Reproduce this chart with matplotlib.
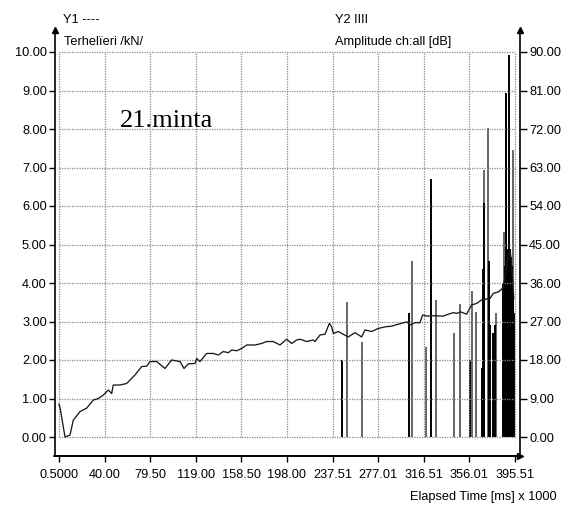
import matplotlib
matplotlib.use("Agg")
import matplotlib.pyplot as plt

# ---------------- data ----------------
x_ticks = [0.5, 40.0, 79.5, 119.0, 158.5, 198.0, 237.51, 277.01, 316.51, 356.01, 395.51]
x_tick_labels = ["0.5000", "40.00", "79.50", "119.00", "158.50", "198.00",
                 "237.51", "277.01", "316.51", "356.01", "395.51"]
y1_ticks = [0, 1, 2, 3, 4, 5, 6, 7, 8, 9, 10]
y1_tick_labels = ["0.00", "1.00", "2.00", "3.00", "4.00", "5.00",
                  "6.00", "7.00", "8.00", "9.00", "10.00"]
y2_ticks = [0, 9, 18, 27, 36, 45, 54, 63, 72, 81, 90]
y2_tick_labels = ["0.00", "9.00", "18.00", "27.00", "36.00", "45.00",
                  "54.00", "63.00", "72.00", "81.00", "90.00"]

# load curve (kN) vs elapsed time (ms x 1000)
load_t = [0.5, 1.5, 5.7, 10.0, 12.9, 18.7, 24.5, 30.2, 34.5, 38.9,
          43.2, 46.1, 47.5, 53.3, 59.1, 66.3, 72.1, 76.5, 79.3, 85.1,
          92.3, 98.1, 105.3, 108.8, 112.5, 118.3, 119.8, 122.6, 128.4, 134.2,
          138.5, 142.8, 147.2, 150.1, 154.4, 158.8, 163.1, 170.3, 176.1, 180.4,
          186.1, 191.9, 197.7, 202.1, 206.4, 209.3, 215.1, 220.8, 222.3, 226.6,
          230.9, 234.7, 236.7, 238.1, 242.5, 245.4, 251.1, 256.9, 262.7, 265.6,
          271.4, 277.1, 282.9, 288.7, 294.4, 301.7, 304.6, 308.9, 313.2, 315.5,
          319.0, 324.8, 333.4, 337.7, 342.1, 345.0, 348.4, 353.6, 357.9, 362.3,
          366.6, 373.9, 376.7, 381.1, 384.0, 385.4, 387.5, 389.5, 391.5, 393.0,
          394.5]
load_kn = [0.85, 0.75, 0.00, 0.05, 0.44, 0.66, 0.75, 0.96, 1.00, 1.09,
           1.22, 1.13, 1.35, 1.35, 1.39, 1.61, 1.83, 1.84, 1.96, 1.96,
           1.78, 2.00, 1.96, 1.78, 1.90, 1.91, 2.04, 1.96, 2.17, 2.17,
           2.13, 2.22, 2.19, 2.26, 2.24, 2.30, 2.39, 2.39, 2.43, 2.48,
           2.48, 2.39, 2.54, 2.43, 2.52, 2.54, 2.48, 2.52, 2.48, 2.65,
           2.67, 2.95, 2.86, 2.69, 2.74, 2.69, 2.60, 2.71, 2.60, 2.78,
           2.74, 2.82, 2.86, 2.88, 2.93, 2.99, 2.91, 2.97, 2.97, 3.17,
           3.14, 3.15, 3.14, 3.19, 3.23, 3.21, 3.25, 3.19, 3.43, 3.47,
           3.56, 3.60, 3.73, 3.77, 3.84, 3.90, 4.30, 4.70, 4.80, 4.30,
           3.60]

# acoustic emission hits: time, amplitude (dB), channel shade
hit_t = [245.9, 250.2, 262.7, 303.4, 306.0, 318.2, 322.9, 326.8, 342.9, 347.9,
         356.5, 358.5, 361.7, 366.7, 367.5, 368.9, 368.6, 371.9, 372.8, 373.9,
         376.7, 379.3, 378.2, 386.2, 387.7, 390.0, 393.7,
         385.3, 386.6, 387.4, 388.3, 389.2, 390.5, 391.3, 392.2, 393.0, 394.2, 395.0]
hit_db = [18.0, 31.6, 22.3, 29.1, 41.2, 21.1, 60.3, 32.0, 24.2, 31.1,
          18.0, 34.1, 29.3, 16.1, 39.3, 62.3, 54.7, 72.2, 41.2, 26.2,
          24.2, 29.0, 26.2, 48.0, 80.3, 89.3, 67.1,
          36.0, 40.0, 43.5, 44.0, 43.5, 43.0, 44.0, 42.0, 40.0, 33.0, 29.0]
hit_shade = ["k", "g", "g", "k", "g", "g", "k", "g", "g", "g",
             "k", "g", "g", "k", "k", "g", "k", "g", "k", "k",
             "k", "g", "k", "g", "k", "k", "g",
             "k", "k", "k", "k", "k", "k", "k", "k", "k", "k", "k"]

# ---------------- style ----------------
plt.rcParams["font.family"] = ["Liberation Sans", "DejaVu Sans"]
FS = 9.2

W, H = 561, 505
fig = plt.figure(figsize=(W / 100, H / 100), dpi=100)
L, R, B, T = 54.5, 519.5, 456.0, 30.0
ax = fig.add_axes([L / W, 1 - B / H, (R - L) / W, (B - T) / H])

px_per_x = (515 - 59) / (395.51 - 0.5)
px_per_y = (437 - 52) / 10.0
xlo = 0.5 - (59 - L) / px_per_x
xhi = 395.51 + (R - 515) / px_per_x
ylo = 0 - (B - 437) / px_per_y
yhi = 10 + (52 - T) / px_per_y
ax.set_xlim(xlo, xhi)
ax.set_ylim(ylo, yhi)

ax2 = ax.twinx()
ax2.set_ylim(ylo * 9, yhi * 9)

# grid (inside data range only)
gkw = dict(color="#8a8a8a", lw=0.9, linestyles=(0, (1, 1)), zorder=0)
ax.hlines(y1_ticks, x_ticks[0], x_ticks[-1], **gkw)
ax.vlines(x_ticks, y1_ticks[0], y1_ticks[-1], **gkw)

# bars
shade_map = {"k": "#000000", "g": "#666666"}
ax2.vlines(hit_t, 0, hit_db, colors=[shade_map[s] for s in hit_shade], lw=1.4, zorder=2)

# load curve
ax.plot(load_t, load_kn, color="#1a1a1a", lw=0.95, zorder=5)
ax.set_zorder(ax2.get_zorder() + 1)
ax.patch.set_visible(False)

# spines
for a in (ax, ax2):
    a.spines["top"].set_visible(False)
    for s in ("left", "right", "bottom"):
        a.spines[s].set_linewidth(1.2)
        a.spines[s].set_color("black")
ax2.spines["left"].set_visible(False)
ax.spines["right"].set_visible(False)

# arrow heads
ax.plot([xlo], [yhi], marker="^", ms=4, color="black", clip_on=False, zorder=10)
ax.plot([xhi], [yhi], marker="^", ms=4, color="black", clip_on=False, zorder=10)
ax.plot([xhi], [ylo], marker=">", ms=4, color="black", clip_on=False, zorder=10)

# ticks
ax.set_xticks(x_ticks)
ax.set_xticklabels(x_tick_labels)
ax.set_yticks(y1_ticks)
ax.set_yticklabels(y1_tick_labels)
ax2.set_yticks(y2_ticks)
ax2.set_yticklabels(y2_tick_labels)
ax.tick_params(axis="x", direction="out", length=4, width=1, pad=5, labelsize=FS)
ax.tick_params(axis="y", direction="out", length=4, width=1, pad=1.5, labelsize=FS)
ax2.tick_params(axis="y", direction="out", length=5, width=1, pad=2, labelsize=FS)

# titles / labels
fig.text(63 / W, 1 - 20 / H, "Y1 ----", fontsize=FS, va="center", ha="left")
fig.text(64 / W, 1 - 42 / H, "Terhelïeri /kN/", fontsize=FS, va="center", ha="left")
fig.text(335 / W, 1 - 20 / H, "Y2 IIII", fontsize=FS, va="center", ha="left")
fig.text(335 / W, 1 - 42 / H, "Amplitude ch:all [dB]", fontsize=FS, va="center", ha="left")
fig.text(557 / W, 1 - 497 / H, "Elapsed Time [ms] x 1000", fontsize=FS, va="center", ha="right")

ax.text(53.5, 8.05, "21.minta", fontsize=19, family=["Liberation Serif", "DejaVu Serif"],
        va="baseline", ha="left", zorder=6)

fig.savefig("out.png", dpi=100)
